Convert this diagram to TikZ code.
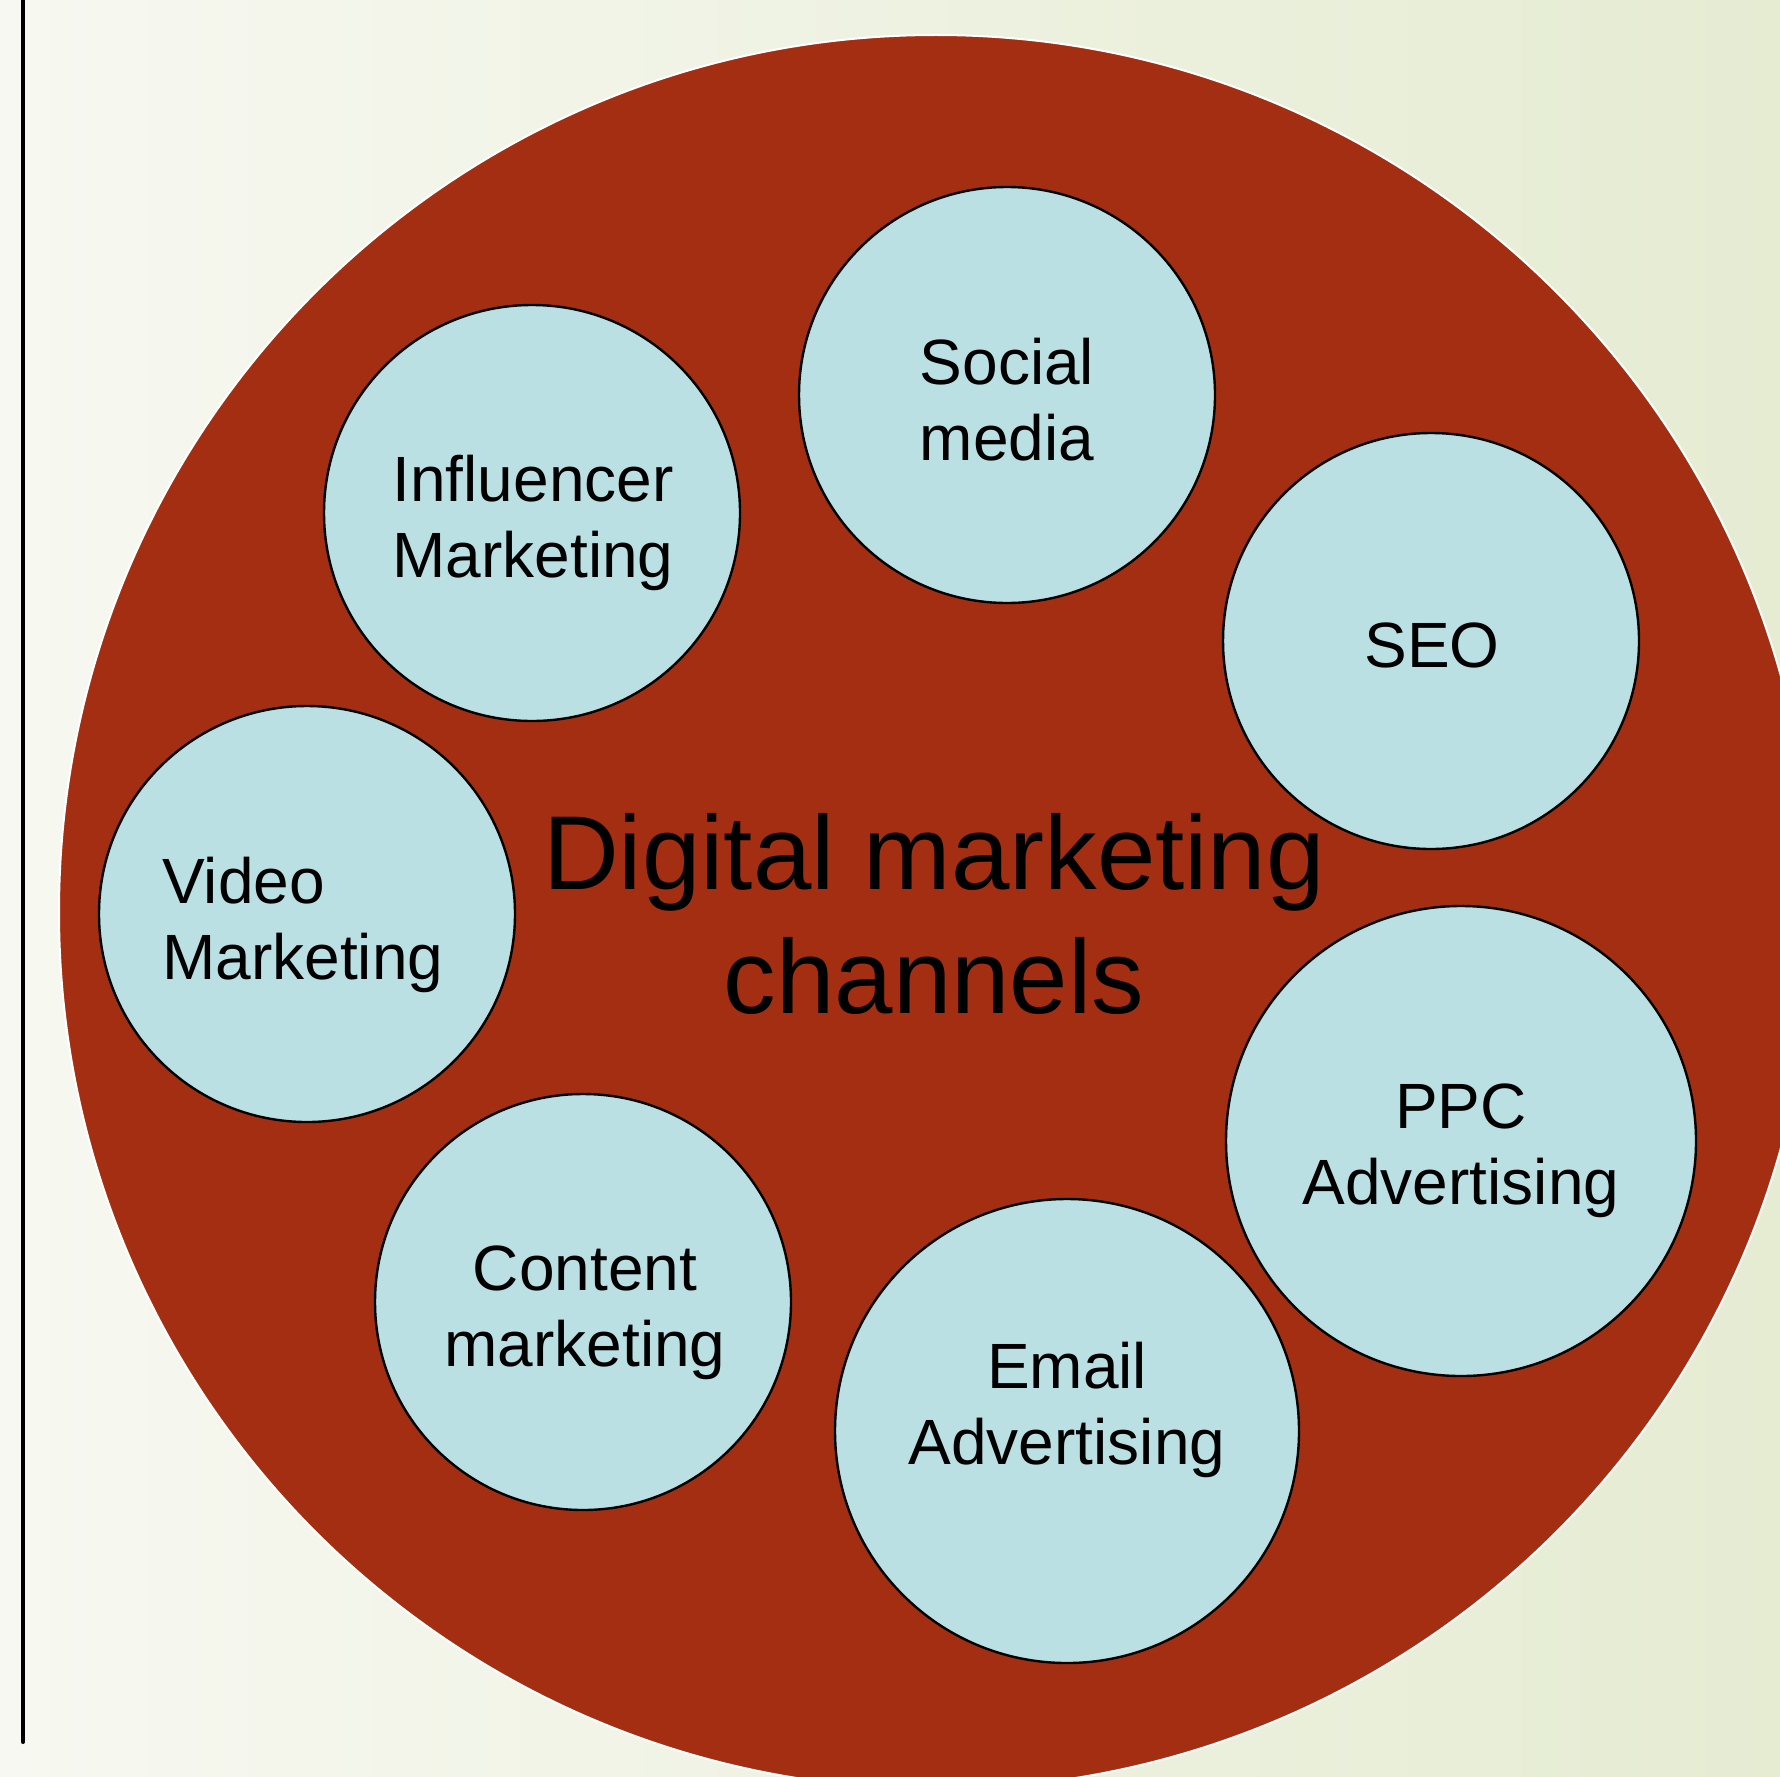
\documentclass[tikz,border=0pt]{standalone}
\usepackage{fontspec}
\setmainfont{Liberation Sans}
\definecolor{bgleft}{HTML}{F7F8F1}
\definecolor{bgright}{HTML}{E5ECD2}
\definecolor{hubred}{HTML}{A42E11}
\definecolor{chanblue}{HTML}{BAE0E3}
\begin{document}
\begin{tikzpicture}[x=0.5pt,y=-0.5pt,
  hub/.style={circle, fill=hubred, draw=white, line width=1pt, minimum size=#1, inner sep=0pt},
  chan/.style={circle, fill=chanblue, draw=black, line width=1.2pt, minimum size=#1, inner sep=0pt},
  chan/.default=208pt,
  % multi-line labels are anchored on the baseline of their last line
  lbl/.style={font=\fontsize{32}{38}\selectfont, align=center, anchor=base, inner sep=0pt},
  lblleft/.style={font=\fontsize{32}{38}\selectfont, align=left, anchor=base west, inner sep=0pt},
  titletext/.style={font=\fontsize{52.5}{62}\selectfont, align=center, anchor=base, inner sep=0pt},
]
% page frame and background
\useasboundingbox (0,0) rectangle (1780,1776);
\clip (0,0) rectangle (1780,1776);
\shade[left color=bgleft, right color=bgright] (0,0) rectangle (1780,1776);

% vertical rule on the left
\coordinate (ruletop) at (23,0);
\coordinate (rulebot) at (23,1742);
\draw[line width=2pt, line cap=round] (ruletop) -- (rulebot);

% central disc
\node[hub=877pt] (hubdisc) at (936,912) {};

% channel discs
\node[chan] (soc) at (1007,395) {};
\node[chan] (inf) at (532,513) {};
\node[chan] (seo) at (1431,641) {};
\node[chan] (vid) at (307,914) {};
\node[chan=235pt] (ppc) at (1461,1141) {};
\node[chan] (con) at (583,1302) {};
\node[chan=232pt] (eml) at (1067,1431) {};

% channel labels
\node[lbl] (socl) at (1007,460) {Social\\media};
\node[lbl] (infl) at (533,577) {Influencer\\Marketing};
\node[lbl] (seol) at (1432,667) {SEO};
\node[lblleft] (vidl) at (162,979) {Video\\Marketing};
\node[lbl] (ppcl) at (1461,1204) {PPC\\Advertising};
\node[lbl] (conl) at (585,1366) {Content\\marketing};
\node[lbl] (emll) at (1067,1464) {Email\\Advertising};

% title in the middle of the disc
\node[titletext] (title) at (934,1013) {Digital marketing\\channels};
\end{tikzpicture}
\end{document}
